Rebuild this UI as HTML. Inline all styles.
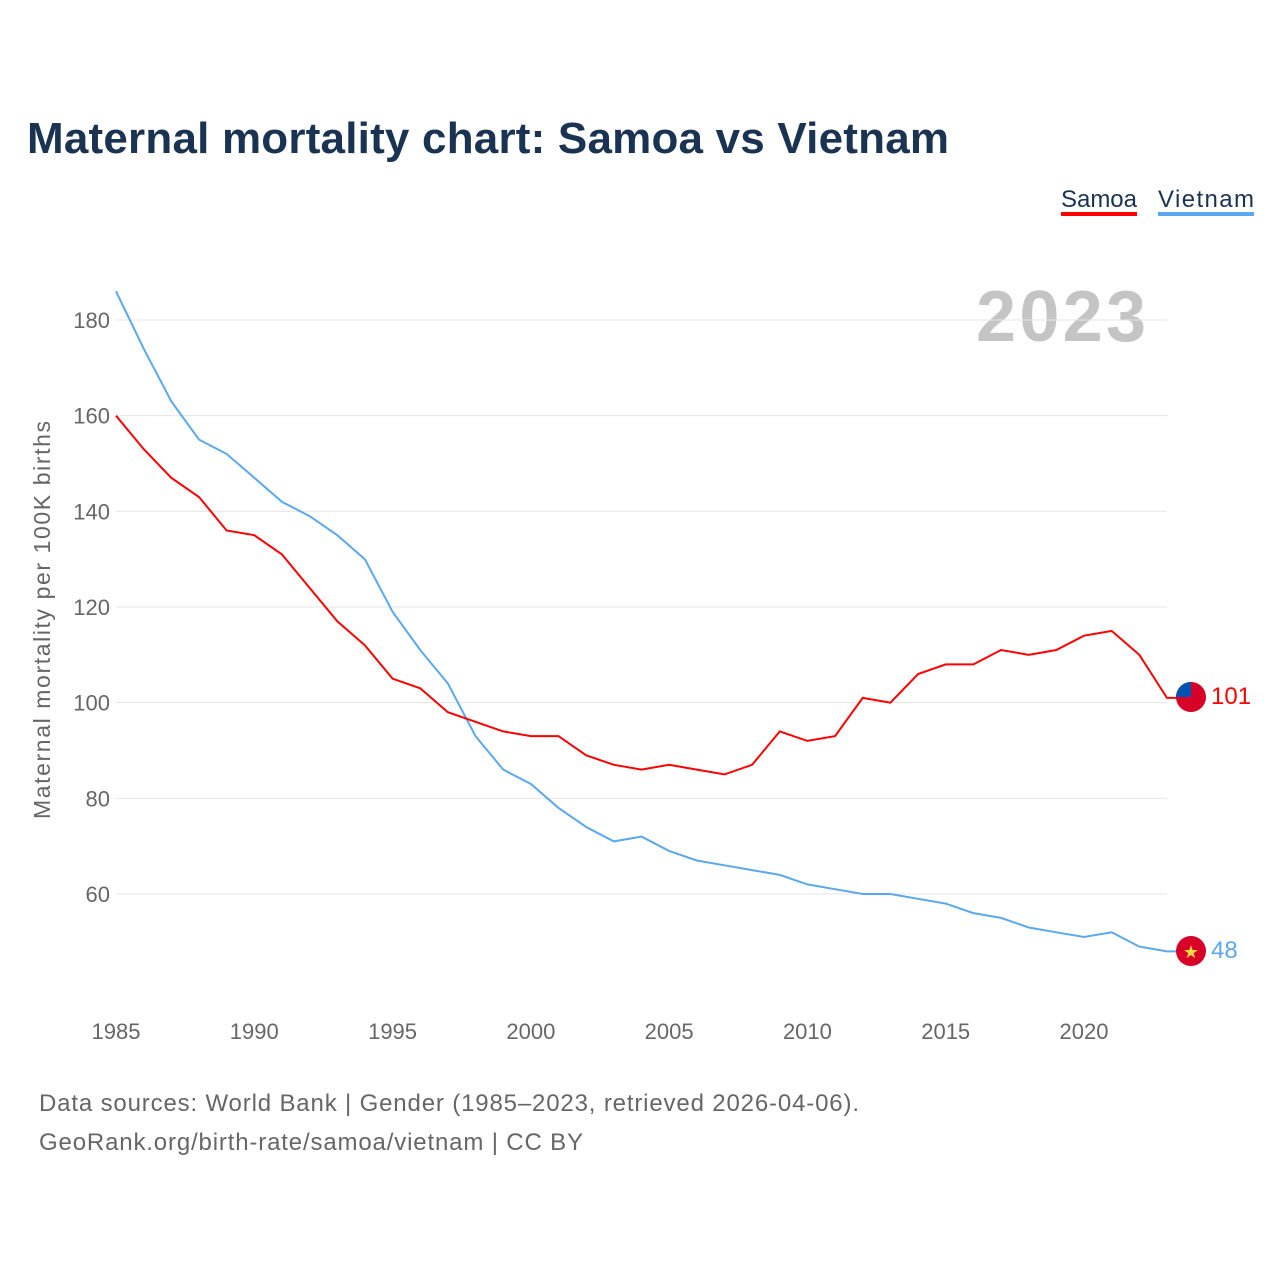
<!DOCTYPE html>
<html><head><meta charset="utf-8"><style>
body{margin:0;background:#fff;font-family:"Liberation Sans",sans-serif;}
svg text{font-family:"Liberation Sans",sans-serif;}
</style></head><body>
<svg width="1280" height="1280" viewBox="0 0 1280 1280">
<text x="27" y="153" font-size="44" font-weight="bold" fill="#1a3353" textLength="922">Maternal mortality chart: Samoa vs Vietnam</text>
<g><text x="1061" y="207" font-size="24" fill="#1a3353" textLength="76">Samoa</text><rect x="1061" y="212" width="76" height="4" fill="#ff0000"/></g>
<g><text x="1158" y="207" font-size="24" fill="#1a3353" textLength="96">Vietnam</text><rect x="1158" y="212" width="96" height="4" fill="#5aa8ef"/></g>
<text x="1146" y="341" font-size="72" font-weight="bold" fill="#c4c4c4" text-anchor="end" textLength="170">2023</text>
<g id="grid"></g><g id="xt"></g>
<text transform="translate(50,620) rotate(-90)" font-size="23" fill="#666" text-anchor="middle" textLength="398">Maternal mortality per 100K births</text>
<g id="lines"></g>
<g><clipPath id="c1"><circle cx="1191" cy="697" r="15"/></clipPath><g clip-path="url(#c1)"><rect x="1176" y="682" width="30" height="30" fill="#d80027"/><rect x="1176" y="682" width="15" height="15" fill="#0052b4"/></g></g>
<g><circle cx="1191" cy="951" r="15" fill="#d80027"/><text x="1191" y="958" font-size="18" fill="#ffda44" text-anchor="middle">★</text></g>
<text x="1211" y="704" font-size="24" fill="#ff0000">101</text>
<text x="1211" y="958" font-size="24" fill="#5aa8ef">48</text>
<text x="39" y="1111" font-size="24" fill="#666" textLength="820">Data sources: World Bank | Gender (1985–2023, retrieved 2026-04-06).</text>
<text x="39" y="1150" font-size="24" fill="#666" textLength="544">GeoRank.org/birth-rate/samoa/vietnam | CC BY</text>
</svg>
<script>
const years=[1985,1986,1987,1988,1989,1990,1991,1992,1993,1994,1995,1996,1997,1998,1999,2000,2001,2002,2003,2004,2005,2006,2007,2008,2009,2010,2011,2012,2013,2014,2015,2016,2017,2018,2019,2020,2021,2022,2023];
const samoa=[160,153,147,143,136,135,131,124,117,112,105,103,98,96,94,93,93,89,87,86,87,86,85,87,94,92,93,101,100,106,108,108,111,110,111,114,115,110,101];
const vietnam=[186,174,163,155,152,147,142,139,135,130,119,111,104,93,86,83,78,74,71,72,69,67,66,65,64,62,61,60,60,59,58,56,55,53,52,51,52,49,48];
const yTicks=[60,80,100,120,140,160,180];
const xTicks=[1985,1990,1995,2000,2005,2010,2015,2020];
const X=y=>116+(y-1985)*27.657;
const Y=v=>320+(180-v)*4.7833;
const NS="http://www.w3.org/2000/svg";
function mk(t,p,a){const e=document.createElementNS(NS,t);for(const k in a)e.setAttribute(k,a[k]);p.appendChild(e);return e;}
const g=document.getElementById('grid');
yTicks.forEach(v=>{
 const l=mk('line',g,{x1:116,x2:1167,y1:Y(v),y2:Y(v),stroke:'#e6e6e6','stroke-width':1});
 
 
 const t=mk('text',g,{x:110,y:Y(v)+8,'font-size':22,fill:'#666','text-anchor':'end'});t.textContent=v;
 
 
});
const xt=document.getElementById('xt');
xTicks.forEach(y=>{
 const t=mk('text',xt,{x:X(y),y:1039,'font-size':22,fill:'#666','text-anchor':'middle'});t.textContent=y;
 
 
});
const L=document.getElementById('lines');
function line(d,c,n){
 let s=d.map((v,i)=>(i?'L':'M')+X(years[i]).toFixed(1)+','+Y(v).toFixed(1)).join(' ');
 s+=' L'+(X(years[years.length-1])+10).toFixed(1)+','+Y(d[d.length-1]).toFixed(1);
 const p=mk('path',L,{d:s,fill:'none',stroke:c,'stroke-width':2});
 
 
}
line(vietnam,'#5aa8ef','vietnam-line');
line(samoa,'#ff0000','samoa-line');
</script>
</body></html>
